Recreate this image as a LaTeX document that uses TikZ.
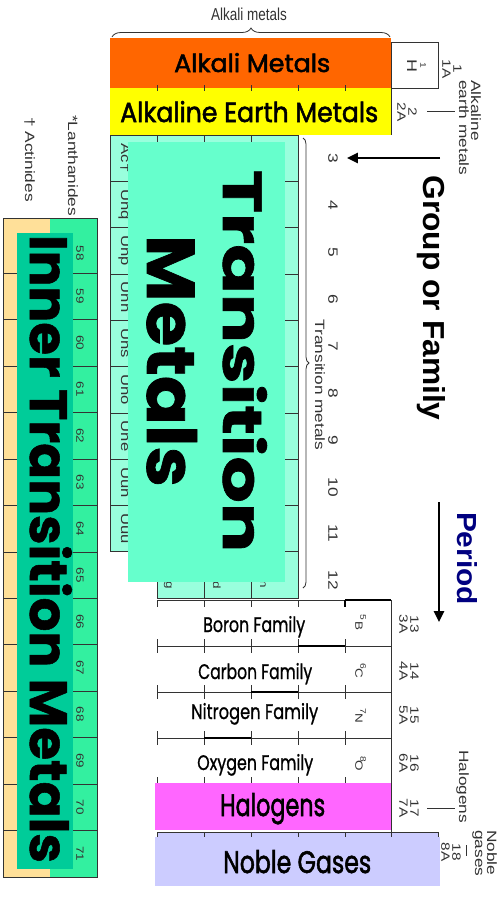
\documentclass[tikz,border=0pt]{standalone}
\usepackage{fontspec}
\setmainfont{Liberation Sans}
\newfontfamily\comic[FakeBold=1]{Poppins}
\newfontfamily\comicb[FakeBold=2]{Poppins}
\usetikzlibrary{decorations.pathreplacing,arrows.meta}

\definecolor{alkali}{RGB}{255,102,0}
\definecolor{earth}{RGB}{255,255,0}
\definecolor{tcell}{RGB}{153,255,221}
\definecolor{tlabel}{RGB}{102,255,204}
\definecolor{lanth}{RGB}{51,240,160}
\definecolor{actin}{RGB}{255,224,153}
\definecolor{inner}{RGB}{0,204,153}
\definecolor{halo}{RGB}{255,102,255}
\definecolor{noble}{RGB}{204,204,255}
\definecolor{navy}{RGB}{0,0,128}

% the table is drawn taller than wide: stretch text along y
\newcommand{\vs}[1]{\scalebox{1.28}[1]{#1}}
\newcommand{\hs}[1]{\scalebox{1}[1.28]{#1}}

\begin{document}
\begin{tikzpicture}[
    x=1pt, y=-1pt,
    cell/.style={draw=black!80, line width=0.6pt},
    lbl/.style={font=\fontsize{13.5}{12}\selectfont, text=black!80, inner sep=0pt},
    lblv/.style={lbl, rotate=-90},
    num/.style={font=\fontsize{12}{11}\selectfont, text=black!80, inner sep=0pt, rotate=-90, align=center},
    tiny/.style={font=\fontsize{10.5}{10}\selectfont, text=black!80, inner sep=0pt, rotate=-90},
    big/.style={inner sep=0pt, anchor=base west},
    bigv/.style={inner sep=0pt, anchor=base, rotate=-90},
    stair/.style={black, line width=1.8pt},
    pointer/.style={-{Triangle[length=11pt,width=10pt]}, line width=2.5pt},
]

\useasboundingbox (0,0) rectangle (500,897);
\fill[white] (0,0) rectangle (500,897);

% Alkali metals brace
\node[lbl] (lalk) at (249,14) {\hs{Alkali metals}};
\draw[black!80, line width=0.8pt, decorate, decoration={brace, amplitude=9pt}] (112,37) -- (390,37);

% Rows 1 and 2
\fill[alkali] (110,38) rectangle (391,88);
\fill[earth] (110,88) rectangle (391,135);
\draw[cell] (157,85) -- (157,91) (204,85) -- (204,91) (251,85) -- (251,91)
    (298,85) -- (298,91) (345,85) -- (345,91);
\draw[cell] (391,88) -- (391,135);
\draw[cell, fill=white] (391,42) rectangle (438,88);
\node[tiny, font=\fontsize{8}{8}\selectfont] (hnum) at (423,65) {\vs{1}};
\node[tiny, font=\fontsize{14}{14}\selectfont] (hsym) at (412,66) {\vs{H}};
\node[big] (alk) at (174,72) {\resizebox{156pt}{19pt}{\comicb Alkali Metals}};
\node[big] (ear) at (120,122) {\resizebox{258pt}{21pt}{\comicb Alkaline Earth Metals}};

% Transition block (cells behind the label)
\fill[tcell] (110,135) rectangle (298,551.7);
\fill[tcell] (157,551.7) rectangle (298,598);
\draw[cell] (110,135) -- (298,135) -- (298,598) -- (157,598) -- (157,551.7) -- (110,551.7) -- cycle;
\draw[cell] (110,181.3) -- (298,181.3) (110,227.6) -- (298,227.6) (110,273.9) -- (298,273.9)
    (110,320.2) -- (298,320.2) (110,366.5) -- (298,366.5) (110,412.8) -- (298,412.8)
    (110,459.1) -- (298,459.1) (110,505.4) -- (298,505.4) (157,551.7) -- (298,551.7);
\draw[cell] (157,135) -- (157,551.7) (204,135) -- (204,598) (251,135) -- (251,598);

% Period 7 symbols, mostly hidden
\node[tiny, font=\fontsize{13}{13}\selectfont, anchor=base] (ac) at (121,158.2) {\vs{Ac\textdagger}};
\node[tiny, font=\fontsize{13}{13}\selectfont, anchor=base] (unq) at (121,204.5) {\vs{Unq}};
\node[tiny, font=\fontsize{13}{13}\selectfont, anchor=base] (unp) at (121,250.8) {\vs{Unp}};
\node[tiny, font=\fontsize{13}{13}\selectfont, anchor=base] (unh) at (121,297.1) {\vs{Unh}};
\node[tiny, font=\fontsize{13}{13}\selectfont, anchor=base] (uns) at (121,343.4) {\vs{Uns}};
\node[tiny, font=\fontsize{13}{13}\selectfont, anchor=base] (uno) at (121,389.7) {\vs{Uno}};
\node[tiny, font=\fontsize{13}{13}\selectfont, anchor=base] (une) at (121,436) {\vs{Une}};
\node[tiny, font=\fontsize{13}{13}\selectfont, anchor=base] (uun) at (121,482.3) {\vs{Uun}};
\node[tiny, font=\fontsize{13}{13}\selectfont, anchor=base] (uuu) at (121,528.6) {\vs{Uuu}};
\node[tiny, anchor=base] (hg) at (166,580) {\vs{Hg}};
\node[tiny, anchor=base] (cd) at (213,580) {\vs{Cd}};
\node[tiny, anchor=base] (zn) at (260,580) {\vs{Zn}};

\fill[tlabel] (128,142) rectangle (285,582);
\node[bigv] (tra) at (223,361) {\resizebox{382pt}{44pt}{\comic\bfseries Transition}};
\node[bigv] (met) at (147,361) {\resizebox{252pt}{50pt}{\comic\bfseries Metals}};

% Transition metals brace
\draw[black!80, line width=0.8pt, decorate, decoration={brace, amplitude=6pt}] (303,138) -- (303,588);
\node[lblv] (ltm) at (320,385) {\vs{Transition metals}};

% Group numbers
\node[lblv] (g3) at (333,158) {\vs{3}};
\node[lblv] (g4) at (333,205) {\vs{4}};
\node[lblv] (g5) at (333,252) {\vs{5}};
\node[lblv] (g6) at (333,299) {\vs{6}};
\node[lblv] (g7) at (333,346) {\vs{7}};
\node[lblv] (g8) at (333,393) {\vs{8}};
\node[lblv] (g9) at (333,440) {\vs{9}};
\node[lblv] (g10) at (333,487) {\vs{10}};
\node[lblv] (g11) at (333,533) {\vs{11}};
\node[lblv] (g12) at (333,580) {\vs{12}};
\node[num] (g1) at (452,69) {\vs{1}\\\vs{1A}};
\node[num] (g2) at (407,112) {\vs{2}\\\vs{2A}};
\node[num] (g13) at (409,624) {\vs{13}\\\vs{3A}};
\node[num] (g14) at (409,671) {\vs{14}\\\vs{4A}};
\node[num] (g15) at (409,715) {\vs{15}\\\vs{5A}};
\node[num] (g16) at (409,763) {\vs{16}\\\vs{6A}};
\node[num] (g17) at (409,808) {\vs{17}\\\vs{7A}};
\node[num] (g18) at (451,852) {\vs{18}\\\vs{8A}};

% Side labels
\node[lblv, anchor=north west, align=left] (lae) at (481,80) {\vs{Alkaline}\\\vs{earth metals}};
\coordinate (e1) at (427,111);
\coordinate (e2) at (455,111);
\draw[black!80, line width=0.8pt] (e1) -- (e2);
\node[lblv, anchor=north west] (lhal) at (469,750) {\vs{Halogens}};
\coordinate (h1) at (427,808);
\coordinate (h2) at (455,808);
\draw[black!80, line width=0.8pt] (h1) -- (h2);
\node[lblv, anchor=north west, align=left] (lnob) at (497,830) {\vs{Noble}\\\vs{gases}};
\coordinate (n1) at (466,845);
\coordinate (n2) at (466,856);
\draw[black!80, line width=0.8pt] (n1) -- (n2);

% Group or Family / Period
\node[bigv] (gof) at (423,298) {\resizebox{245pt}{22pt}{\bfseries Group or Family}};
\coordinate (gfrom) at (440,158);
\draw[pointer] (gfrom) -- (g3.north) [shorten >=9pt];
\node[bigv, text=navy] (per) at (457,558.5) {\resizebox{93pt}{20pt}{\bfseries Period}};
\coordinate (pfrom) at (439,502);
\coordinate (pto) at (439,622);
\draw[pointer] (pfrom) -- (pto);

% p block
\draw[cell] (157,600) rectangle (391,783);
\draw[cell] (157,646) -- (391,646) (157,692) -- (391,692) (157,738) -- (391,738);
\draw[cell] (204,600) -- (204,783) (251,600) -- (251,783) (298,600) -- (298,783) (345,600) -- (345,783);
\fill[white] (156,607) rectangle (352,639);
\fill[white] (156,653) rectangle (352,685);
\fill[white] (156,699) rectangle (352,731);
\fill[white] (156,745) rectangle (352,777);
\draw[stair] (345,600) -- (391,600) (345,600) -- (345,607);
\draw[stair] (298,646) -- (345,646);
\draw[stair] (251,692) -- (298,692);
\draw[stair] (204,738) -- (251,738);
\node[big] (bor) at (203,632) {\resizebox{102pt}{16pt}{\comic Boron Family}};
\node[big] (car) at (198,679) {\resizebox{114pt}{16pt}{\comic Carbon Family}};
\node[big] (nit) at (191,719) {\resizebox{127pt}{16pt}{\comic Nitrogen Family}};
\node[big] (oxy) at (197,770) {\resizebox{116pt}{16pt}{\comic Oxygen Family}};
\node[tiny, font=\fontsize{8}{8}\selectfont] (bnum) at (363,617) {\vs{5}};
\node[tiny] (bsym) at (359,626) {\vs{B}};
\node[tiny, font=\fontsize{8}{8}\selectfont] (cnum) at (363,666) {\vs{6}};
\node[tiny] (csym) at (359,673) {\vs{C}};
\node[tiny, font=\fontsize{8}{8}\selectfont] (nnum) at (363,711) {\vs{7}};
\node[tiny] (nsym) at (359,718) {\vs{N}};
\node[tiny, font=\fontsize{8}{8}\selectfont] (onum) at (363,759) {\vs{8}};
\node[tiny] (osym) at (359,766) {\vs{O}};

% Halogens and noble gases
\fill[halo] (155,783) rectangle (391,830);
\draw[cell] (391,783) -- (391,832);
\fill[noble] (157,832) rectangle (438,877);
\draw[cell] (157,832) -- (438,832);
\draw[cell] (157,832) -- (157,838) (204,832) -- (204,838) (251,832) -- (251,838)
    (298,832) -- (298,838) (345,832) -- (345,838) (391,832) -- (391,838) (438,832) -- (438,838);
\fill[noble] (155,837) rectangle (440,886);
\node[big] (hal) at (220,816) {\resizebox{105pt}{23pt}{\comicb Halogens}};
\node[big] (nob) at (223,873) {\resizebox{148pt}{23pt}{\comicb Noble Gases}};

% Inner transition block
\fill[actin] (3,218) rectangle (50,877);
\fill[lanth] (50,218) rectangle (97,877);
\draw[cell] (3,218) rectangle (97,877);
\draw[cell] (3,273) -- (97,273) (3,319.5) -- (97,319.5) (3,365.9) -- (97,365.9)
    (3,412.4) -- (97,412.4) (3,458.8) -- (97,458.8) (3,505.3) -- (97,505.3)
    (3,551.8) -- (97,551.8) (3,598.2) -- (97,598.2) (3,644.7) -- (97,644.7)
    (3,691.1) -- (97,691.1) (3,737.6) -- (97,737.6) (3,784.1) -- (97,784.1)
    (3,830.5) -- (97,830.5);
\node[tiny] (l58) at (80,253) {\vs{58}};
\node[tiny] (l59) at (80,296.2) {\vs{59}};
\node[tiny] (l60) at (80,342.7) {\vs{60}};
\node[tiny] (l61) at (80,389.2) {\vs{61}};
\node[tiny] (l62) at (80,435.6) {\vs{62}};
\node[tiny] (l63) at (80,482.1) {\vs{63}};
\node[tiny] (l64) at (80,528.5) {\vs{64}};
\node[tiny] (l65) at (80,575) {\vs{65}};
\node[tiny] (l66) at (80,621.5) {\vs{66}};
\node[tiny] (l67) at (80,667.9) {\vs{67}};
\node[tiny] (l68) at (80,714.4) {\vs{68}};
\node[tiny] (l69) at (80,760.8) {\vs{69}};
\node[tiny] (l70) at (80,807.3) {\vs{70}};
\node[tiny] (l71) at (80,853.8) {\vs{71}};
\fill[inner] (17,233) rectangle (73,869);
\node[bigv] (itm) at (30,549) {\resizebox{628pt}{42pt}{\comic\bfseries Inner Transition Metals}};
\node[lblv, anchor=north west] (llan) at (78,115) {\vs{*Lanthanides}};
\node[lblv, anchor=north west] (lact) at (35,117) {\vs{\textdagger{} Actinides}};

\end{tikzpicture}
\end{document}
